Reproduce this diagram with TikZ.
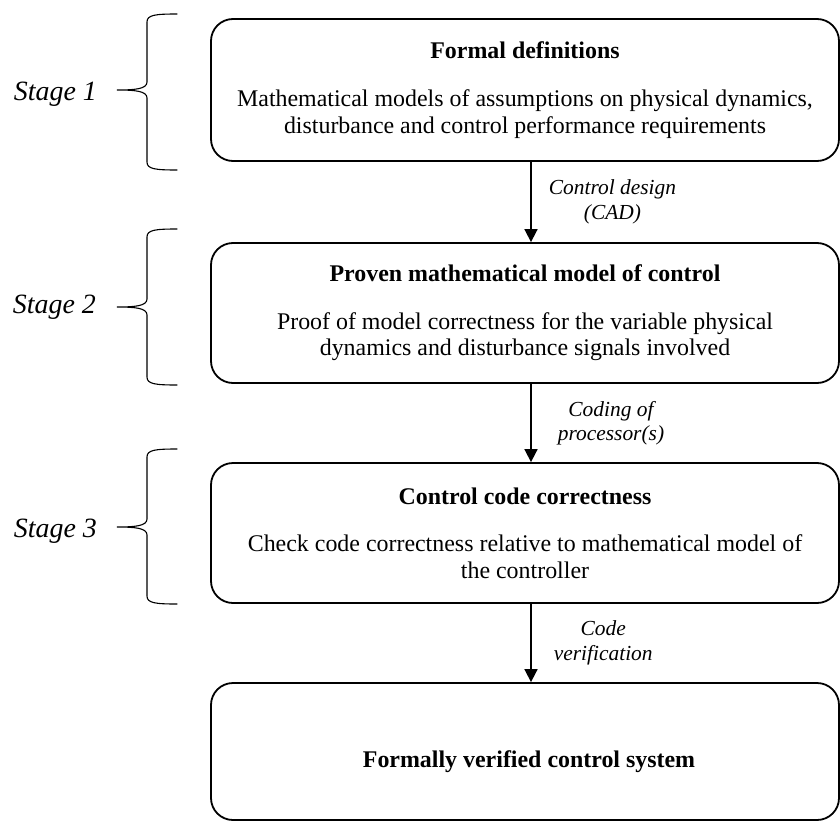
\documentclass[tikz,border=0pt]{standalone}
\usepackage{fontspec}
\setmainfont{Liberation Serif}
\usetikzlibrary{arrows.meta}

% curly brace: top end, tip (pointing left), bottom end
\newcommand\stagebrace[3]{%
  \draw[bracepen] (177,#1) .. controls (155,#1) and (147,#1+1) .. (147,#1+8)
    -- (147,#2-8) .. controls (147,#2-1) and (135,#2) .. (117,#2)
    .. controls (135,#2) and (147,#2+1) .. (147,#2+8)
    -- (147,#3-8) .. controls (147,#3-1) and (155,#3) .. (177,#3);}

\begin{document}
\begin{tikzpicture}[x=1bp,y=-1bp,
  stepbox/.style={draw, line width=1.8bp, rounded corners=22bp,
    minimum width=628bp, inner sep=0pt, align=center,
    font=\fontsize{24}{26.5}\selectfont},
  flow/.style={line width=1.7bp, -{Triangle[length=13bp,width=13bp]}},
  lab/.style={inner sep=0pt, align=center, font=\itshape\fontsize{21.5}{24.5}\selectfont},
  stagelab/.style={inner sep=0pt, anchor=base east, font=\itshape\fontsize{28}{32}\selectfont},
  bracepen/.style={line width=1.1bp, line cap=round}]

\useasboundingbox (0,0) rectangle (840,821);

% process boxes
\node[stepbox, minimum height=142bp] (b1) at (525,90)
  {\textbf{Formal definitions}\\[21.5bp]
   Mathematical models of assumptions on physical dynamics,\\
   disturbance and control performance requirements};
\node[stepbox, minimum height=140bp] (b2) at (525,313)
  {\textbf{Proven mathematical model of control}\\[21.5bp]
   Proof of model correctness for the variable physical\\
   dynamics and disturbance signals involved};
\node[stepbox, minimum height=140bp] (b3) at (525,533)
  {\textbf{Control code correctness}\\[21.5bp]
   Check code correctness relative to mathematical model of\\
   the controller};
\node[stepbox, minimum height=137bp] (b4) at (525,751.5) {};
\node[inner sep=0pt, font=\bfseries\fontsize{24}{27}\selectfont] (t4) at (529,762)
  {Formally verified control system};

% connectors
\coordinate (ax) at (531,0);
\draw[flow] (b1.south -| ax) -- node[lab, right=17bp] {Control design\\(CAD)} (b2.north -| ax);
\draw[flow] (b2.south -| ax) -- node[lab, right=26bp] {Coding of\\processor(s)} (b3.north -| ax);
\draw[flow] (b3.south -| ax) -- node[lab, right=22bp] {Code\\verification} (b4.north -| ax);

% stages
\node[stagelab] (s1) at (97,100) {Stage 1};
\node[stagelab] (s2) at (96,313) {Stage 2};
\node[stagelab] (s3) at (97,537) {Stage 3};
\stagebrace{14}{90}{170}
\stagebrace{229}{307}{385}
\stagebrace{449}{527}{604}
\end{tikzpicture}
\end{document}
